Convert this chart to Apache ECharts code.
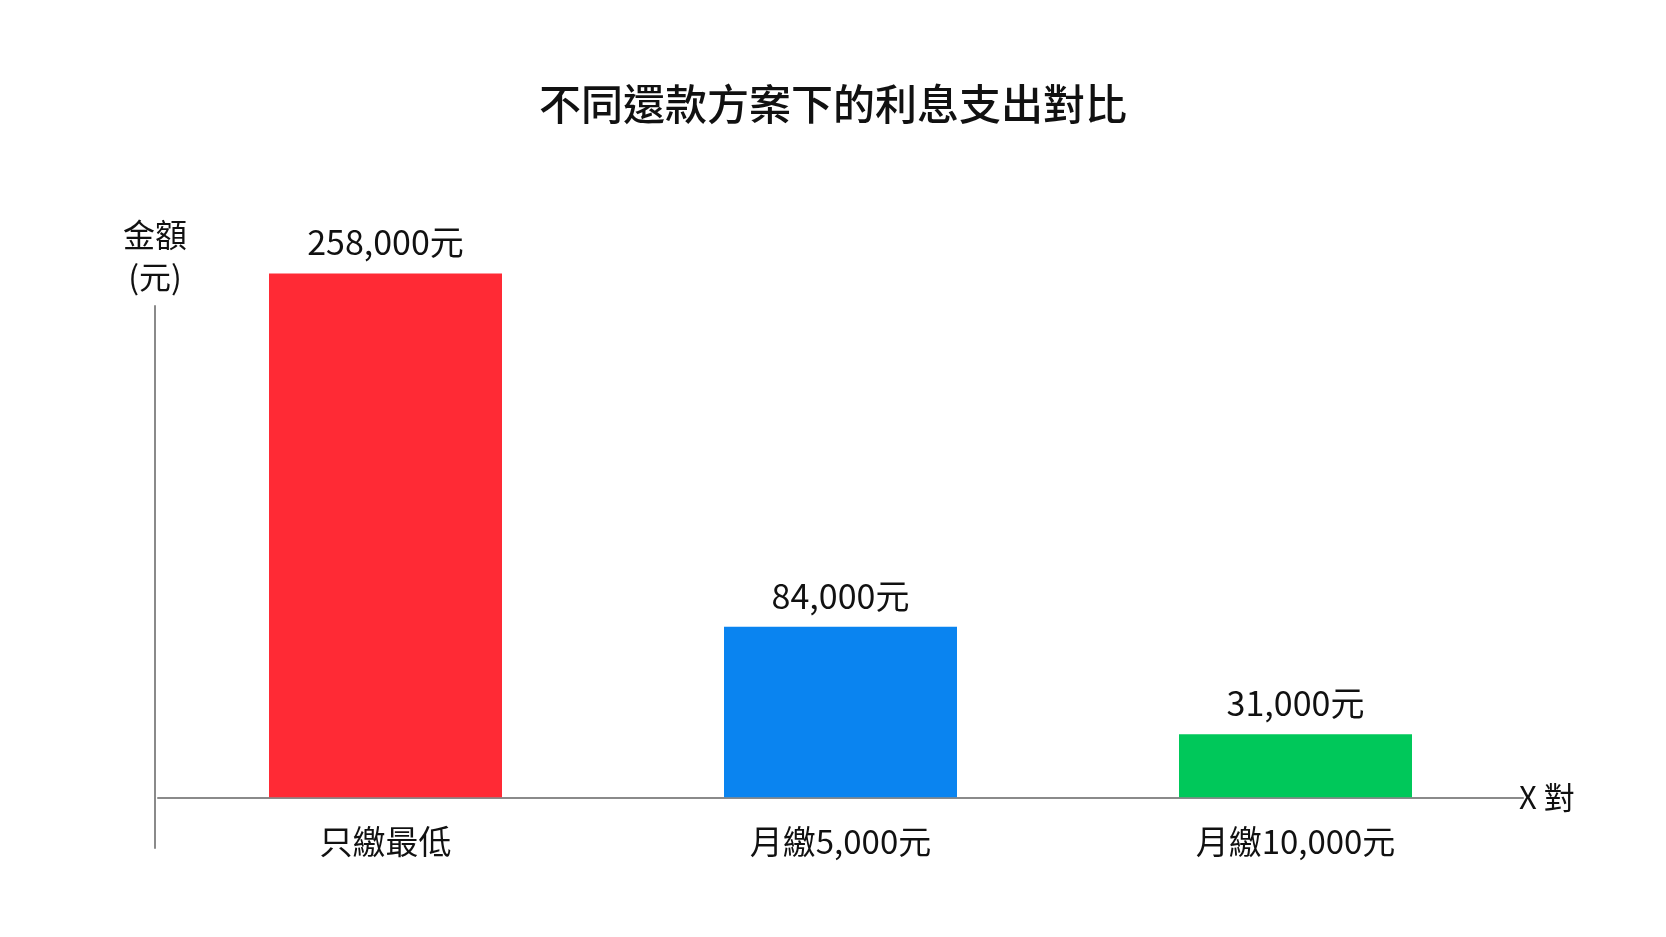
<!DOCTYPE html>
<html>
<head>
<meta charset="utf-8">
<script src="https://cdn.jsdelivr.net/npm/echarts@6/dist/echarts.min.js"></script>
<style>
html,body{margin:0;padding:0;background:#fff;}
#chart{width:1666px;height:937px;}
</style>
</head>
<body>
<div id="chart"></div>
<script>
var titleText = '不同還款方案下的利息支出對比';
var categories = ['只繳最低', '月繳5,000元', '月繳10,000元'];
var interestValues = [258000, 84000, 31000];
var yAxisName = '金額\n(元)';
var xAxisName = 'X 對';
var barColors = ['#ff2a35', '#0a84f0', '#00c85a'];

var FONT = '"Noto Sans CJK TC", "Noto Sans CJK SC", sans-serif';
var chart = echarts.init(document.getElementById('chart'));
chart.setOption({
  backgroundColor: '#ffffff',
  animation: false,
  title: {
    text: titleText,
    left: 'center',
    top: 78,
    textStyle: { fontFamily: FONT, fontSize: 42, fontWeight: 500, color: '#111' }
  },
  grid: { left: 158, right: 143, top: 306, bottom: 89 },
  xAxis: {
    type: 'category',
    data: categories,
    name: xAxisName,
    nameLocation: 'end',
    nameGap: -4,
    nameTextStyle: { fontFamily: FONT, fontSize: 31, color: '#111' },
    axisLine: { show: true, onZero: true, lineStyle: { color: '#8a8a8a', width: 2 } },
    axisTick: { show: false },
    axisLabel: { fontFamily: FONT, fontSize: 33, color: '#111', margin: -23 },
    splitLine: { show: false }
  },
  yAxis: {
    type: 'value',
    min: -25000,
    max: 242000,
    offset: 3,
    name: yAxisName,
    nameLocation: 'end',
    nameGap: 8,
    nameTextStyle: { fontFamily: FONT, fontSize: 32, color: '#111', lineHeight: 42, align: 'center' },
    axisLine: { show: true, lineStyle: { color: '#8a8a8a', width: 2 } },
    axisTick: { show: false },
    axisLabel: { show: false },
    splitLine: { show: false }
  },
  series: [{
    type: 'bar',
    clip: false,
    barWidth: 233,
    data: interestValues.map(function (v, i) {
      return { value: v, itemStyle: { color: barColors[i] } };
    }),
    label: {
      show: true,
      position: 'top',
      distance: 14,
      fontFamily: FONT,
      fontSize: 34,
      color: '#111',
      formatter: function (p) { return p.value.toLocaleString('en-US') + '元'; }
    }
  }]
});
</script>
</body>
</html>
